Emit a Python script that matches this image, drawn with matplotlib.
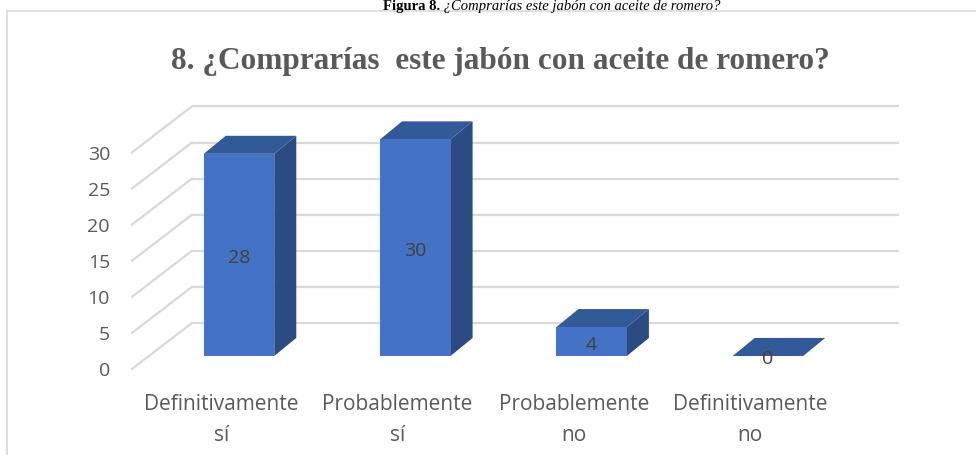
import matplotlib
matplotlib.use("Agg")
import matplotlib.pyplot as plt
from matplotlib.patches import Polygon, Rectangle

# ---- data ----
categories = ["Definitivamente\nsí", "Probablemente\nsí", "Probablemente\nno", "Definitivamente\nno"]
values = [28, 30, 4, 0]
yticks = [0, 5, 10, 15, 20, 25, 30]
title = "8. ¿Comprarías  este jabón con aceite de romero?"
caption_bold = "Figura 8."
caption_italic = " ¿Comprarías este jabón con aceite de romero?"

# ---- styles ----
FRONT = "#4472C4"
TOP = "#335A98"
SIDE = "#2B4B82"
GRID = "#D9D9D9"
TXT = "#595959"
LBL = "#404040"
SANS = ["Open Sans", "DejaVu Sans"]
SERIF = ["Liberation Serif", "DejaVu Serif"]

W, H, DPI = 976, 456, 100
fig = plt.figure(figsize=(W / DPI, H / DPI), dpi=DPI)
ax = fig.add_axes([0, 0, 1, 1])
ax.set_axis_off()

# pixel mapping: category i front center at 239 + 176.3*i px, value 0 at 357 px from top, 7.22 px/unit
PX_X, X0 = 176.3, 239.0
PX_Y, Y0 = 7.22, 357.0
ax.set_xlim(-X0 / PX_X, (W - X0) / PX_X)
ax.set_ylim((Y0 - H) / PX_Y, Y0 / PX_Y)

# 3D geometry (in data units)
bar_w = 0.4
bdx, bdy = 0.125, 2.5          # bar depth offset
wall_dy = 4.57                 # back wall vertical offset
wall_x0, wall_x1 = -0.267, 3.744
side_front_x, side_front_dy = -0.607, -1.80

# back wall gridlines and side wall diagonals
for v in yticks:
    yb = v + wall_dy
    ax.plot([wall_x0, wall_x1], [yb, yb], color=GRID, lw=1.6, zorder=1, solid_capstyle="butt")
    ax.plot([side_front_x, wall_x0], [v + side_front_dy, yb], color=GRID, lw=1.6, zorder=1)
    ax.text(side_front_x - 0.125, v + side_front_dy - 0.2, f"{v}", ha="right", va="center",
            fontsize=14, color=TXT, family=SANS)

# bars
for i, v in enumerate(values):
    xl, xr = i - bar_w / 2, i + bar_w / 2
    ax.add_patch(Polygon([(xr, 0), (xr + bdx, bdy), (xr + bdx, v + bdy), (xr, v)],
                         closed=True, facecolor=SIDE, edgecolor="none", zorder=3))
    ax.add_patch(Polygon([(xl, v), (xr, v), (xr + bdx, v + bdy), (xl + bdx, v + bdy)],
                         closed=True, facecolor=TOP, edgecolor="none", zorder=3))
ax.bar(range(len(values)), values, width=bar_w, color=FRONT, linewidth=0, zorder=4)

for i, v in enumerate(values):
    ax.text(i, v / 2 - 0.3, f"{v}", ha="center", va="center", fontsize=14, color=LBL,
            family=SANS, zorder=6)

# category labels
for i, c in enumerate(categories):
    ax.text(i - 0.1, (Y0 - 394) / PX_Y, c, ha="center", va="top", fontsize=15,
            color=TXT, family=SANS, linespacing=1.65)

# chart title
fig.text(500 / W, 1 - 61 / H, title, ha="center", va="center", fontsize=22.5,
         fontweight="bold", color=TXT, family=SERIF)

# chart border
fig.add_artist(Rectangle((7 / W, -0.1), 1.2, 1.1 - 12 / H, transform=fig.transFigure,
                         fill=False, edgecolor=GRID, lw=1.2))

# caption above the chart
fig.canvas.draw()
cap_size = 10.5
tb = fig.text(0, 0, caption_bold, fontsize=cap_size, fontweight="bold", family=SERIF)
ti = fig.text(0, 0, caption_italic, fontsize=cap_size, style="italic", family=SERIF)
r = fig.canvas.get_renderer()
wb = tb.get_window_extent(r).width
wi = ti.get_window_extent(r).width
tb.remove(); ti.remove()
x_start = 552 - (wb + wi) / 2
base_y = 1 - 10 / H
fig.text(x_start / W, base_y, caption_bold, ha="left", va="baseline", fontsize=cap_size,
         fontweight="bold", color="black", family=SERIF)
fig.text((x_start + wb) / W, base_y, caption_italic, ha="left", va="baseline", fontsize=cap_size,
         style="italic", color="black", family=SERIF)

fig.savefig("out.png", dpi=DPI, facecolor="white")
